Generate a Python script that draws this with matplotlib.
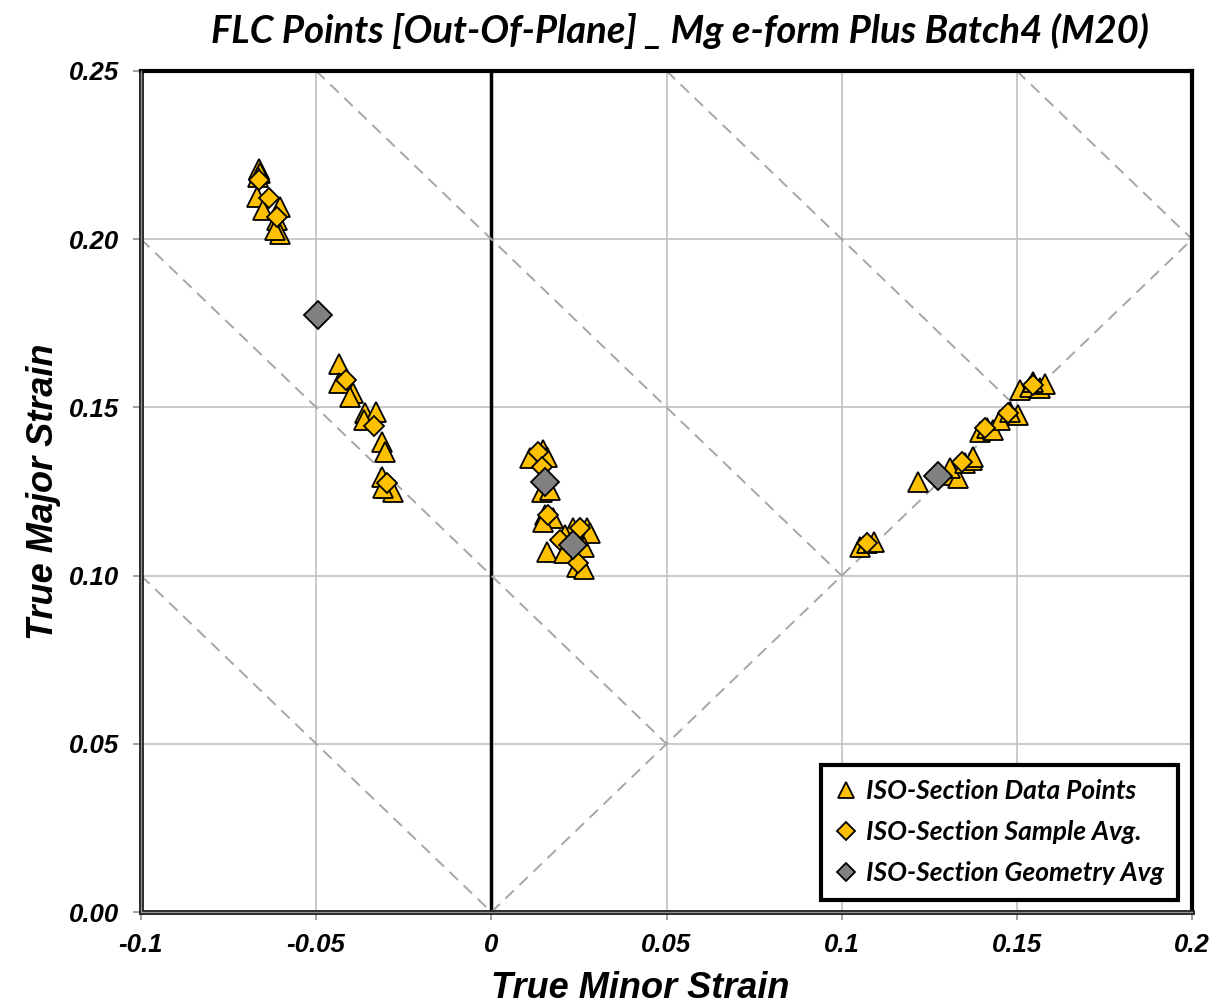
import numpy as np
import matplotlib
matplotlib.use('Agg')
import matplotlib.pyplot as plt
from matplotlib.lines import Line2D

# ISO-section data points (triangles)
tri_minor = [-0.0662, -0.0660, -0.0665, -0.0668, -0.0651, -0.0603, -0.0613, -0.0603, -0.0617,
             -0.0434, -0.0434, -0.0396, -0.0403, -0.0361, -0.0330, -0.0365, -0.0313, -0.0303,
             -0.0313, -0.0299, -0.0280, -0.0308,
             0.0134, 0.0148, 0.0111, 0.0158, 0.0144, 0.0168, 0.0153, 0.0177, 0.0148, 0.0158,
             0.0234, 0.0272, 0.0282, 0.0210, 0.0263, 0.0244, 0.0263, 0.0206,
             0.1053, 0.1072, 0.1091, 0.1219, 0.1319, 0.1333, 0.1309, 0.1352, 0.1371, 0.1376,
             0.1395, 0.1414, 0.1433, 0.1452, 0.1504, 0.1481, 0.1509, 0.1538, 0.1566, 0.1581, 0.1547]
tri_major = [0.2208, 0.2196, 0.2186, 0.2126, 0.2087, 0.2097, 0.2057, 0.2015, 0.2027,
             0.1629, 0.1573, 0.1542, 0.1532, 0.1484, 0.1487, 0.1463, 0.1398, 0.1368,
             0.1294, 0.1259, 0.1249, 0.1259,
             0.1364, 0.1374, 0.1349, 0.1353, 0.1249, 0.1254, 0.1180, 0.1170, 0.1160, 0.1071,
             0.1141, 0.1141, 0.1126, 0.1121, 0.1086, 0.1026, 0.1021, 0.1066,
             0.1086, 0.1096, 0.1101, 0.1279, 0.1299, 0.1289, 0.1319, 0.1334, 0.1344, 0.1353,
             0.1428, 0.1438, 0.1433, 0.1463, 0.1477, 0.1487, 0.1552, 0.1562, 0.1557, 0.1571, 0.1576]

# sample averages (yellow diamonds)
smp_minor = [-0.0662, -0.0634, -0.0613, -0.0415, -0.0334, -0.0299,
             0.0134, 0.0144, 0.0163, 0.0253, 0.0196, 0.0248,
             0.1072, 0.1342, 0.1409, 0.1476, 0.1547]
smp_major = [0.2176, 0.2121, 0.2065, 0.1581, 0.1445, 0.1274,
             0.1368, 0.1324, 0.1180, 0.1141, 0.1106, 0.1037,
             0.1096, 0.1339, 0.1438, 0.1482, 0.1567]

# geometry averages (grey diamonds)
geo_minor = [-0.0494, 0.0153, 0.0234, 0.1276]
geo_major = [0.1776, 0.1279, 0.1091, 0.1296]

# reference lines: major = -minor + c, drawn down to major = minor
ref_c = [0.0, 0.1, 0.2, 0.3, 0.4]

xticks = [-0.1, -0.05, 0, 0.05, 0.1, 0.15, 0.2]
xticklabels = ['-0.1', '-0.05', '0', '0.05', '0.1', '0.15', '0.2']
yticks = [0.0, 0.05, 0.10, 0.15, 0.20, 0.25]
yticklabels = ['0.00', '0.05', '0.10', '0.15', '0.20', '0.25']

YELLOW = '#FFC000'
GREY = '#808080'
ARIAL = 'Liberation Sans'
CALIBRI = 'Lato'
DASH = (0, (6, 4))

fig = plt.figure(figsize=(12.18, 10.07), dpi=100)
ax = fig.add_axes([0.1158, 0.0943, 0.8629, 0.8352])
ax.set_xlim(-0.1, 0.2)
ax.set_ylim(0.0, 0.25)

# grid
for xv in xticks[1:-1]:
    if xv != 0:
        ax.axvline(xv, color='#c0c0c0', lw=1.2, zorder=0)
for yv in yticks[1:-1]:
    ax.axhline(yv, color='#c0c0c0', lw=1.2, zorder=0)
ax.axvline(0, color='black', lw=2.5, zorder=1)

# diagonal reference lines
ax.plot([0, 0.2], [0, 0.2], color='#a6a6a6', ls=DASH, lw=1.4, zorder=1)
for c in ref_c:
    x0 = max(-0.1, c - 0.25)
    x1 = c / 2
    ax.plot([x0, x1], [c - x0, c - x1], color='#a6a6a6', ls=DASH, lw=1.4, zorder=1)

ax.plot(tri_minor, tri_major, ls='none', marker='^', ms=14, mfc=YELLOW, mec='black', mew=1.3, zorder=3)
ax.plot(smp_minor, smp_major, ls='none', marker='D', ms=10, mfc=YELLOW, mec='black', mew=1.3, zorder=4)
ax.plot(geo_minor, geo_major, ls='none', marker='D', ms=14.5, mfc=GREY, mec='black', mew=1.3, zorder=5)

# spines
for s in ['top', 'right']:
    ax.spines[s].set_linewidth(3)
    ax.spines[s].set_color('black')
for s in ['left', 'bottom']:
    ax.spines[s].set_linewidth(3.5)
    ax.spines[s].set_color('#202020')
ax.plot([0, 0], [0, 1], transform=ax.transAxes, color='#909090', lw=1, clip_on=False, zorder=6)
ax.plot([0, 1], [0, 0], transform=ax.transAxes, color='#909090', lw=1, clip_on=False, zorder=6)

ax.set_xticks(xticks)
ax.set_xticklabels(xticklabels)
ax.set_yticks(yticks)
ax.set_yticklabels(yticklabels)
ax.tick_params(axis='both', direction='out', length=6, width=1.2, color='#909090')
ax.tick_params(axis='y', pad=10)
ax.tick_params(axis='x', pad=9)
for lab in ax.get_xticklabels() + ax.get_yticklabels():
    lab.set_fontfamily(ARIAL)
    lab.set_fontweight('bold')
    lab.set_fontstyle('italic')
    lab.set_fontsize(18.5)

fig.text(0.526, 0.0185, 'True Minor Strain', ha='center', va='center', fontsize=26,
         fontweight='bold', fontstyle='italic', family=ARIAL)
fig.text(0.036, 0.512, 'True Major Strain', ha='center', va='center', rotation=90, fontsize=26,
         fontweight='bold', fontstyle='italic', family=ARIAL)
fig.text(0.558, 0.969, 'FLC Points [Out-Of-Plane] _ Mg e-form Plus Batch4 (M20)', ha='center',
         va='center', fontsize=27.5, fontweight='bold', fontstyle='italic', family=CALIBRI)

handles = [
    Line2D([], [], ls='none', marker='^', ms=12, mfc=YELLOW, mec='black', mew=1.3),
    Line2D([], [], ls='none', marker='D', ms=9, mfc=YELLOW, mec='black', mew=1.3),
    Line2D([], [], ls='none', marker='D', ms=9, mfc=GREY, mec='black', mew=1.3),
]
labels = ['ISO-Section Data Points', 'ISO-Section Sample Avg.', 'ISO-Section Geometry Avg']
leg = ax.legend(handles, labels, loc='lower right', bbox_to_anchor=(0.9867, 0.0143),
                frameon=True, fancybox=False, framealpha=1, handlelength=0.8, handletextpad=0.35,
                labelspacing=0.65, borderpad=0.55, borderaxespad=0,
                prop={'family': CALIBRI, 'weight': 'bold', 'style': 'italic', 'size': 19})
leg.get_frame().set_edgecolor('black')
leg.get_frame().set_linewidth(3)
leg.set_zorder(10)

fig.savefig('out.png', dpi=100)
